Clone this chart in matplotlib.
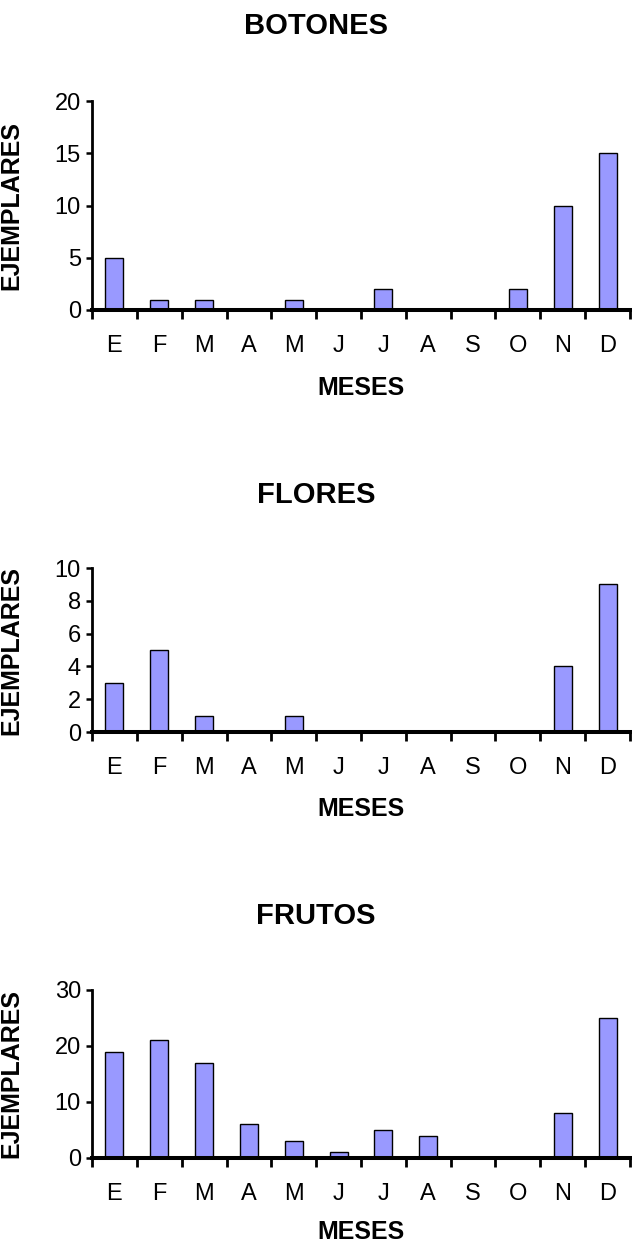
import matplotlib
matplotlib.use('Agg')
import matplotlib.pyplot as plt
from matplotlib.ticker import FixedLocator
import numpy as np

plt.rcParams['font.family'] = ['Liberation Sans', 'DejaVu Sans']

meses = ['E', 'F', 'M', 'A', 'M', 'J', 'J', 'A', 'S', 'O', 'N', 'D']
botones = [5, 1, 1, 0, 1, 0, 2, 0, 0, 2, 10, 15]
flores = [3, 5, 1, 0, 1, 0, 0, 0, 0, 0, 4, 9]
frutos = [19, 21, 17, 6, 3, 1, 5, 4, 0, 0, 8, 25]

W, H = 632, 1245
fig = plt.figure(figsize=(W / 100, H / 100), dpi=100)

# (title, values, ymax, ystep, title_y, axes top px, axes bottom px, MESES offset px)
panels = [
    ('BOTONES', botones, 20, 5, 26, 101, 310, 78),
    ('FLORES', flores, 10, 2, 495, 568, 732, 77),
    ('FRUTOS', frutos, 30, 10, 916, 990, 1158, 74),
]

x = np.arange(len(meses)) + 0.5
for title, vals, ymax, ystep, ty, top, bot, moff in panels:
    ax = fig.add_axes([92 / W, 1 - bot / H, 538 / W, (bot - top) / H])
    ax.bar(x, vals, width=0.4, color='#9999ff', edgecolor='black',
           linewidth=1.0, zorder=2)
    ax.set_xlim(0, 12)
    ax.set_ylim(0, ymax)
    ax.set_yticks(np.arange(0, ymax + 1, ystep))
    ax.set_xticks(x)
    ax.set_xticklabels(meses)
    ax.xaxis.set_minor_locator(FixedLocator(np.arange(0, 13)))
    ax.tick_params(axis='x', which='major', length=0, pad=18, labelsize=17)
    ax.tick_params(axis='x', which='minor', length=6.5, width=2.0,
                   direction='out')
    ax.tick_params(axis='y', length=4, width=1.8, pad=4, labelsize=17)
    for s in ['top', 'right']:
        ax.spines[s].set_visible(False)
    ax.spines['left'].set_linewidth(2.0)
    ax.spines['bottom'].set_linewidth(2.9)
    ax.spines['bottom'].set_zorder(3)
    ax.spines['bottom'].set_clip_on(False)

    ax.set_ylabel('EJEMPLARES', fontsize=18, fontweight='bold')
    ax.yaxis.set_label_coords(-(92 - 23) / 538, 0.5)
    ax.annotate('MESES', xy=(0.5, 0), xycoords='axes fraction',
                xytext=(0, -moff * 0.72), textcoords='offset points',
                ha='center', va='center', fontsize=18, fontweight='bold')
    fig.text(0.5, 1 - ty / H, title, ha='center', va='center',
             fontsize=21, fontweight='bold')

plt.savefig('out.png', dpi=100)
